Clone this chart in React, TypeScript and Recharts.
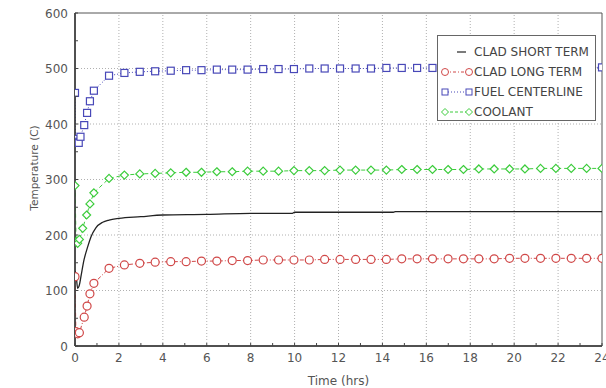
import React from 'react';
import { LineChart, Line, XAxis, YAxis, ReferenceLine, ReferenceArea } from 'recharts';

// ---------- data ----------
const lateTimes = [1.55, 2.25, 2.95, 3.65, 4.36, 5.06, 5.76, 6.46, 7.16, 7.86, 8.57, 9.27, 9.97, 10.67, 11.37, 12.07, 12.78, 13.48, 14.18, 14.88, 15.58, 16.28, 16.99, 17.69, 18.39, 19.09, 19.79, 20.49, 21.2, 21.9, 22.6, 23.3, 24];

const fuelEarlyTimes = [0, 0.03, 0.1, 0.17, 0.25, 0.42, 0.55, 0.68, 0.86];
const fuelEarlyValues = [456, 373, 368, 366, 377, 398, 420, 441, 460];
const fuelLateValues = [487, 492, 494, 495, 496, 497, 497, 498, 498, 498, 499, 499, 499, 500, 500, 500, 500, 500, 501, 501, 501, 501, 501, 501, 502, 502, 502, 502, 502, 502, 502, 502, 502];

const coolEarlyTimes = [0, 0.05, 0.12, 0.2, 0.35, 0.53, 0.68, 0.86];
const coolEarlyValues = [289, 188, 185, 192, 212, 236, 256, 276];
const coolLateValues = [302, 308, 310, 311, 312, 313, 313, 314, 314, 315, 315, 315, 316, 316, 316, 317, 317, 317, 317, 318, 318, 318, 318, 318, 319, 319, 319, 319, 320, 320, 320, 320, 320];

const longEarlyTimes = [0, 0.04, 0.12, 0.2, 0.42, 0.55, 0.68, 0.86];
const longEarlyValues = [125, 26, 22, 24, 52, 72, 94, 113];
const longLateValues = [140, 146, 149, 151, 152, 152, 153, 153, 154, 154, 155, 155, 155, 155, 156, 156, 156, 156, 156, 157, 157, 157, 157, 157, 157, 157, 158, 158, 158, 158, 158, 158, 158];

const shortTimes = [0, 0.05, 0.12, 0.2, 0.27, 0.41, 0.58, 0.73, 0.95, 1.26, 1.55, 2, 3, 4, 6, 8, 9.9, 10, 14.5, 14.6, 24];
const shortValues = [135, 128, 104, 110, 125, 155, 179, 197, 213, 223, 227, 230, 233, 236, 237, 239, 239, 241, 241, 242, 242];

const xTicks = [0, 1, 2, 3, 4, 5, 6, 7, 8, 9, 10, 11, 12, 13, 14, 15, 16, 17, 18, 19, 20, 21, 22, 23, 24];
const xGrid = [2, 4, 6, 8, 10, 12, 14, 16, 18, 20, 22];
const yTicks = [0, 50, 100, 150, 200, 250, 300, 350, 400, 450, 500, 550, 600];
const yGrid = [100, 200, 300, 400, 500];

const seriesNames = ['CLAD SHORT TERM', 'CLAD LONG TERM', 'FUEL CENTERLINE', 'COOLANT'];

const zip = (ts: number[], vs: number[]) => ts.map((t, i) => ({ t, v: vs[i] }));
const fuelData = zip([...fuelEarlyTimes, ...lateTimes], [...fuelEarlyValues, ...fuelLateValues]);
const coolData = zip([...coolEarlyTimes, ...lateTimes], [...coolEarlyValues, ...coolLateValues]);
const longData = zip([...longEarlyTimes, ...lateTimes], [...longEarlyValues, ...longLateValues]);
const shortData = zip(shortTimes, shortValues);

// ---------- style ----------
const RED = '#d04848';
const BLUE = '#4848b8';
const GREEN = '#3ccc3c';
const BLACK = '#222';
const FONT = 'DejaVu Sans';
const TICK_M = 10;

const Square = (p: any) => {
  const { cx, cy, key } = p;
  if (cx == null || cy == null) return <g key={key} />;
  return <rect key={key} x={cx - 3.5} y={cy - 3.5} width={7} height={7} fill="white" stroke={BLUE} strokeWidth={1.2} />;
};
const Circle = (p: any) => {
  const { cx, cy, key } = p;
  if (cx == null || cy == null) return <g key={key} />;
  return <circle key={key} cx={cx} cy={cy} r={4} fill="white" stroke={RED} strokeWidth={1.2} />;
};
const Diamond = (p: any) => {
  const { cx, cy, key } = p;
  if (cx == null || cy == null) return <g key={key} />;
  return <path key={key} d={`M${cx} ${cy - 4}L${cx + 4} ${cy}L${cx} ${cy + 4}L${cx - 4} ${cy}Z`} fill="white" stroke={GREEN} strokeWidth={1.2} />;
};

const XTick = (p: any) => {
  const { x, y, payload } = p;
  const axisY = y - TICK_M;
  const major = payload.value % 2 === 0;
  return (
    <g>
      <line x1={x} y1={axisY} x2={x} y2={axisY - 3} stroke="#444" />
      {major && (
        <text x={x} y={axisY + 16} textAnchor="middle" fontFamily={FONT} fontSize={12} fill="#555">
          {payload.value}
        </text>
      )}
    </g>
  );
};
const YTick = (p: any) => {
  const { x, y, payload } = p;
  const axisX = x + TICK_M;
  const major = payload.value % 100 === 0;
  return (
    <g>
      <line x1={axisX} y1={y} x2={axisX + 3} y2={y} stroke="#444" />
      {major && (
        <text x={axisX - 7} y={y + 4.5} textAnchor="end" fontFamily={FONT} fontSize={12} fill="#555">
          {payload.value}
        </text>
      )}
    </g>
  );
};

const LegendSym = ({ i }: { i: number }) => {
  if (i === 0) return <line x1={18} y1={6} x2={27} y2={6} stroke={BLACK} strokeWidth={1.2} />;
  const color = i === 1 ? RED : i === 2 ? BLUE : GREEN;
  const dash = i === 1 ? '3 2 1 2' : i === 2 ? '1 2' : '3 2';
  const mk = (cx: number) =>
    i === 1 ? <circle cx={cx} cy={6} r={3.5} fill="white" stroke={color} /> :
    i === 2 ? <rect x={cx - 3} y={3} width={6} height={6} fill="white" stroke={color} /> :
    <path d={`M${cx} 2.5L${cx + 3.5} 6L${cx} 9.5L${cx - 3.5} 6Z`} fill="white" stroke={color} />;
  return (
    <g>
      <line x1={6} y1={6} x2={30} y2={6} stroke={color} strokeDasharray={dash} />
      {mk(6)}
      {mk(30)}
    </g>
  );
};

export default function App() {
  return (
    <div style={{ position: 'absolute', left: 0, top: 0, width: 606, height: 388, background: 'white' }}>
      <LineChart width={606} height={388} data={shortData} margin={{ top: 13, right: 4, left: 0, bottom: 0 }}>
        <XAxis
          dataKey="t"
          type="number"
          domain={[0, 24]}
          ticks={xTicks}
          interval={0}
          tickLine={false}
          tickSize={0}
          tickMargin={TICK_M}
          tick={<XTick />}
          height={42}
          axisLine={{ stroke: '#333', strokeWidth: 1.5 }}
          allowDataOverflow
          label={{ value: 'Time (hrs)', position: 'insideBottom', offset: 3, fontFamily: FONT, fontSize: 12, fill: '#555' }}
        />
        <YAxis
          type="number"
          domain={[0, 600]}
          ticks={yTicks}
          interval={0}
          tickLine={false}
          tickSize={0}
          tickMargin={TICK_M}
          tick={<YTick />}
          width={75}
          axisLine={{ stroke: '#333', strokeWidth: 1.5 }}
          label={{
            content: () => (
              <text x={34} y={168} transform="rotate(-90 34 168)" textAnchor="middle" dominantBaseline="central" fontFamily={FONT} fontSize={10.5} fill="#555">
                Temperature (C)
              </text>
            ),
          }}
        />
        {xGrid.map((g) => (
          <ReferenceLine key={'x' + g} x={g} stroke="#b0b0b0" strokeDasharray="1 2" />
        ))}
        {yGrid.map((g) => (
          <ReferenceLine key={'y' + g} y={g} stroke="#b0b0b0" strokeDasharray="1 2" />
        ))}
        <ReferenceArea x1={0} x2={24} y1={0} y2={600} fill="none" stroke="#555" strokeWidth={1} />
        <Line data={longData} dataKey="v" type="linear" stroke={RED} strokeWidth={1} strokeDasharray="4 2 1 2" dot={Circle} isAnimationActive={false} />
        <Line data={coolData} dataKey="v" type="linear" stroke={GREEN} strokeWidth={1} strokeDasharray="4 3" dot={Diamond} isAnimationActive={false} />
        <Line data={fuelData} dataKey="v" type="linear" stroke={BLUE} strokeWidth={1} strokeDasharray="1 2" dot={Square} isAnimationActive={false} />
        <Line data={shortData} dataKey="v" type="monotone" stroke={BLACK} strokeWidth={1.3} dot={false} isAnimationActive={false} />
      </LineChart>
      <div
        style={{
          position: 'absolute',
          left: 437,
          top: 35,
          width: 159,
          height: 86,
          border: '1px solid #666',
          background: 'white',
          boxSizing: 'border-box',
          padding: '6px 0 0 0',
        }}
      >
        {seriesNames.map((n, i) => (
          <div key={n} style={{ display: 'flex', alignItems: 'center', height: 20 }}>
            <svg width={35} height={12} style={{ marginLeft: 1 }}>
              <LegendSym i={i} />
            </svg>
            <span style={{ fontFamily: FONT, fontSize: 12, color: '#444', whiteSpace: 'nowrap' }}>{n}</span>
          </div>
        ))}
      </div>
    </div>
  );
}
